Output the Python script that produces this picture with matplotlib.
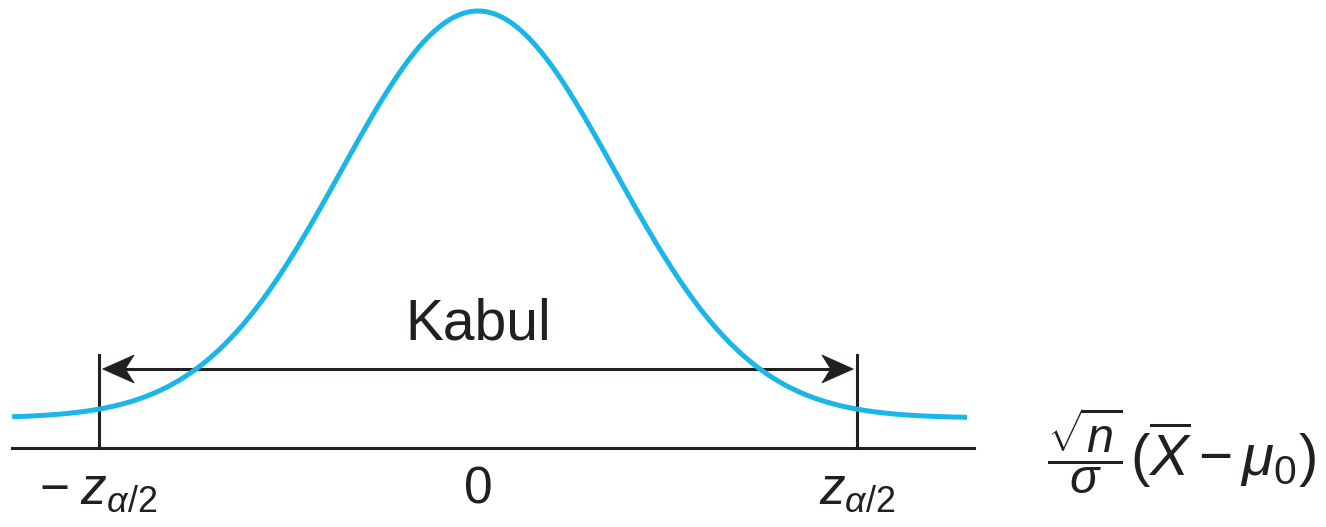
import numpy as np
import matplotlib
matplotlib.use("Agg")
import matplotlib.pyplot as plt
from matplotlib.patches import Polygon

# ---- data ----
mean = 0.0
sd = 1.0
z_crit = 2.77                      # position of the critical values (in sd units)
curve_range = (-3.40, 3.57)
axis_range = (-3.40, 3.62)
accept_label = "Kabul"
tick_positions = [-z_crit, 0.0, z_crit]
tick_labels = [r"$-\;z_{\alpha/2}$", "0", r"$z_{\alpha/2}$"]
axis_label_frac = r"$\dfrac{\sqrt{n}}{\sigma}$"
axis_label_rest = r"$(\overline{X}-\mu_0)$"

plt.rcParams["font.family"] = ["Liberation Sans", "DejaVu Sans"]
plt.rcParams["mathtext.fontset"] = "custom"
plt.rcParams["mathtext.rm"] = "Liberation Sans"
plt.rcParams["mathtext.it"] = "Liberation Sans:italic"
plt.rcParams["mathtext.bf"] = "Liberation Sans:bold"

INK = "#231F20"

fig = plt.figure(figsize=(13.26, 5.27), dpi=100)
ax = fig.add_axes([0, 0, 1, 1])
ax.set_xlim(-478 / 137, 848 / 137)
ax.set_ylim(-79, 448)
ax.axis("off")

# normal curve (lifted above the axis)
z = np.linspace(curve_range[0], curve_range[1], 600)
dens = np.exp(-0.5 * ((z - mean) / sd) ** 2)
ax.plot(z, 30 + 407 * dens, color="#1AB6E8", lw=3.6, solid_capstyle="butt", zorder=3)

# horizontal axis
ax.plot(axis_range, [0, 0], color=INK, lw=2.2, zorder=2)

# critical lines
for zc in (-z_crit, z_crit):
    ax.plot([zc, zc], [0, 93], color=INK, lw=2.2, zorder=2)

# acceptance arrow with notched heads
y_arr = 79
head_len = 0.23
head_half = 14
ax.plot([-z_crit + 0.15, z_crit - 0.15], [y_arr, y_arr], color=INK, lw=2.2, zorder=2)
for zc, d in ((-z_crit, 1), (z_crit, -1)):
    tip = zc + d * 0.03
    pts = [(tip, y_arr),
           (tip + d * head_len, y_arr + head_half),
           (tip + d * head_len * 0.72, y_arr),
           (tip + d * head_len, y_arr - head_half)]
    ax.add_patch(Polygon(pts, closed=True, facecolor=INK, edgecolor=INK, lw=0.5, zorder=4))

ax.text(0, 123, accept_label, ha="center", va="center", fontsize=41, color=INK)

# tick labels
for xp, lab in zip(tick_positions, tick_labels):
    ax.text(xp, -42, lab, ha="center", va="center", fontsize=37, color=INK)

# axis variable label
ax.text(4.15, -3, axis_label_frac, ha="left", va="center", fontsize=35, color=INK)
ax.text(4.76, -7, axis_label_rest, ha="left", va="center", fontsize=42, color=INK)

fig.savefig("out.png", dpi=100)
